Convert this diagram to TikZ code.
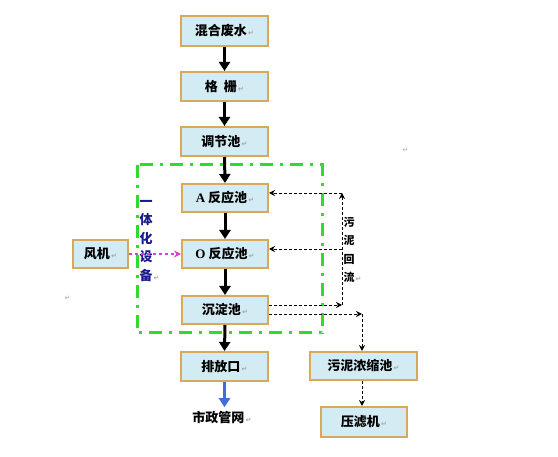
\documentclass[tikz,border=0pt]{standalone}
\usepackage{fontspec}
\setmainfont{Noto Sans CJK SC}
\newfontfamily\latf{Liberation Serif}
\newfontfamily\symf{DejaVu Sans}
\usetikzlibrary{arrows.meta}
\definecolor{boxfill}{HTML}{D3EBF3}
\definecolor{boxedge}{HTML}{D9A95A}
\definecolor{gline}{HTML}{2EDB2E}
\definecolor{navy}{HTML}{1A1A8C}
\definecolor{magen}{HTML}{E040C8}
\definecolor{blueA}{HTML}{3D6FD6}
\newcommand{\rmk}{{\symf\fontsize{7}{7}\selectfont\color{black!35}\,↵}}
\newcommand{\rmkz}{\rlap{\rmk}}
\tikzset{
  proc/.style={draw=boxedge, line width=2pt, fill=boxfill, minimum height=28pt, inner sep=0pt,
    font=\fontsize{13}{13}\selectfont\bfseries},
  flow/.style={line width=3pt, -{Triangle[width=11pt,length=9pt]}},
  ret/.style={densely dashed, line width=0.9pt, -{Stealth[width=6pt,length=6pt]}},
}
\begin{document}
\begin{tikzpicture}[x=1pt,y=-1pt]
\useasboundingbox (0,0) rectangle (558,457);
\fill[white] (0,0) rectangle (558,457);
% green dash-dot frame
\draw[gline, line width=3pt, dash pattern=on 13pt off 7pt on 3pt off 7pt] (137,165) rectangle (322,333);
% main column
\node[proc, minimum width=87pt, minimum height=30pt] (hh) at (224.5,31) {混合废水\rmk};
\node[proc, minimum width=87pt, minimum height=29pt] (gs) at (224.5,86.5) {格\hspace{6pt}栅\rmk};
\node[proc, minimum width=87pt, minimum height=29pt] (tj) at (224.5,141.5) {调节池\rmk};
\node[proc, minimum width=86pt] (ar) at (225,198) {{\latf\bfseries A} 反应池\rmk};
\node[proc, minimum width=86pt] (or) at (225,254) {{\latf\bfseries O} 反应池\rmk};
\node[proc, minimum width=86pt] (cd) at (225,310) {沉淀池\rmk};
\node[proc, minimum width=87pt, minimum height=29pt] (pf) at (224.5,366.5) {排放口\rmk};
\node[font=\fontsize{13}{13}\selectfont\bfseries] (sz) at (222,417) {市政管网\rmk};
% left
\node[proc, minimum width=55pt] (fj) at (100.5,254) {风机\rmk};
\node[font=\fontsize{13}{18.5}\selectfont\bfseries, text=navy, align=center, inner sep=0pt] (yt) at (146,241) {一\\体\\化\\设\\备\rmkz};
% right
\node[proc, minimum width=107pt] (wn) at (363.5,366) {污泥浓缩池\rmk};
\node[proc, minimum width=86pt, minimum height=30pt] (ylj) at (364,422) {压滤机\rmk};
\node[font=\fontsize{11}{18.5}\selectfont\bfseries, align=center, inner sep=0pt] (whl) at (349,250) {污\\泥\\回\\流\rmkz};
% stray marks
\node[inner sep=0pt] (m1) at (67,298) {\rmk};
\node[inner sep=0pt] (m2) at (405,150) {\rmk};
% main flow
\draw[flow] (hh.south) -- (gs.north);
\draw[flow] (gs.south) -- (tj.north);
\draw[flow] (tj.south) -- (ar.north);
\draw[flow] (ar.south) -- (or.north);
\draw[flow] (or.south) -- (cd.north);
\draw[flow] (cd.south) -- (pf.north);
\draw[flow, blueA] (pf.south) -- (pf.south |- sz.north);
% blower
\draw[magen, dashed, line width=1.2pt, -{Stealth[width=7pt,length=7pt]}] (fj.east) -- (or.west);
% sludge return
\coordinate (c1) at (342,305);
\coordinate (c2) at (342,193);
\coordinate (c3) at (342,249);
\coordinate (c4) at (362,314);
\draw[ret] (cd.east |- c1) -- (c1);
\draw[ret] (c1) -- (c2);
\draw[ret] (c2) -- (ar.east |- c2);
\draw[ret] (c3) -- (or.east |- c3);
\draw[ret] (cd.east |- c4) -- (c4);
\draw[ret] (c4) -- (c4 |- wn.north);
\draw[ret] (wn.south -| c4) -- (ylj.north -| c4);
\end{tikzpicture}
\end{document}
